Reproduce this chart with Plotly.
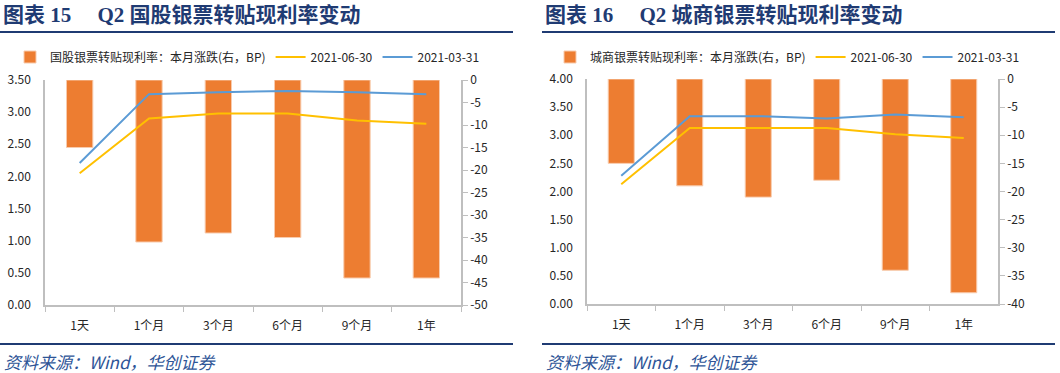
import plotly.graph_objects as go

# ---------------- data ----------------
categories = ["1天", "1个月", "3个月", "6个月", "9个月", "1年"]

# Panel 15: 国股银票转贴现利率
gg_change_bp = [-15, -36, -34, -35, -44, -44]
gg_2021_06_30 = [2.05, 2.90, 2.98, 2.98, 2.87, 2.82]
gg_2021_03_31 = [2.21, 3.28, 3.31, 3.33, 3.31, 3.28]

# Panel 16: 城商银票转贴现利率
cs_change_bp = [-15, -19, -21, -18, -34, -38]
cs_2021_06_30 = [2.13, 3.13, 3.13, 3.13, 3.02, 2.95]
cs_2021_03_31 = [2.28, 3.34, 3.34, 3.30, 3.37, 3.32]

left_ticks_15 = [0, 0.5, 1.0, 1.5, 2.0, 2.5, 3.0, 3.5]
right_ticks_15 = [0, -5, -10, -15, -20, -25, -30, -35, -40, -45, -50]
left_ticks_16 = [0, 0.5, 1.0, 1.5, 2.0, 2.5, 3.0, 3.5, 4.0]
right_ticks_16 = [0, -5, -10, -15, -20, -25, -30, -35, -40]

titles = ["图表 15　 Q2 国股银票转贴现利率变动", "图表 16　 Q2 城商银票转贴现利率变动"]
bar_names = ["国股银票转贴现利率：本月涨跌(右，BP)", "城商银票转贴现利率：本月涨跌(右，BP)"]
source_text = "资料来源：Wind，华创证券"

# ---------------- style ----------------
W, H = 1060, 373
ORANGE = "#ED7D31"
YELLOW = "#FFC000"
BLUE = "#5B9BD5"
AXIS = "#BFBFBF"
TXT = "#262626"
NAVY = "#1F3B73"
FONT = "Noto Sans CJK SC, Liberation Sans, sans-serif"
TITLE_FONT = "Liberation Serif, Noto Sans CJK SC, serif"


def py(px):
    return 1 - px / H


fig = go.Figure()

panels = [
    dict(chg=gg_change_bp, a=gg_2021_06_30, b=gg_2021_03_31, bar=bar_names[0],
         xa="x", ybar="y", yline="y2", legend="legend"),
    dict(chg=cs_change_bp, a=cs_2021_06_30, b=cs_2021_03_31, bar=bar_names[1],
         xa="x2", ybar="y3", yline="y4", legend="legend2"),
]

for p in panels:
    fig.add_trace(go.Bar(
        x=categories, y=p["chg"], name=p["bar"], xaxis=p["xa"], yaxis=p["ybar"],
        marker=dict(color=ORANGE, line=dict(color="#F8CBAD", width=1)),
        width=0.38, legend=p["legend"], showlegend=True,
    ))
    fig.add_trace(go.Scatter(
        x=categories, y=p["a"], name="2021-06-30", mode="lines",
        xaxis=p["xa"], yaxis=p["yline"], line=dict(color=YELLOW, width=2),
        legend=p["legend"],
    ))
    fig.add_trace(go.Scatter(
        x=categories, y=p["b"], name="2021-03-31", mode="lines",
        xaxis=p["xa"], yaxis=p["yline"], line=dict(color=BLUE, width=2),
        legend=p["legend"],
    ))

tickfont = dict(family=FONT, size=12, color=TXT)

xcommon = dict(type="category", showline=True, linecolor=AXIS, linewidth=1.5,
               ticks="outside", tickson="boundaries", ticklen=5, tickcolor=AXIS,
               tickfont=tickfont, showgrid=False, zeroline=False, automargin=False,
               ticklabelstandoff=9)

ycommon = dict(showline=True, linecolor=AXIS, linewidth=1.5, tickfont=tickfont,
               showgrid=False, zeroline=False, automargin=False)

legfont = dict(family=FONT, size=12, color=TXT)

fig.update_layout(
    width=W, height=H,
    margin=dict(l=0, r=0, t=0, b=0, autoexpand=False),
    paper_bgcolor="white", plot_bgcolor="white",
    font=dict(family=FONT, color=TXT),
    xaxis=dict(domain=[45 / W, 461 / W], anchor="y", **xcommon),
    yaxis=dict(domain=[py(305), py(80)], anchor="x", side="right",
               range=[-50, 0], tickvals=right_ticks_15,
               ticktext=[str(v) for v in right_ticks_15],
               ticks="outside", ticklen=5, tickcolor=AXIS, **ycommon),
    yaxis2=dict(overlaying="y", side="left", anchor="x", range=[0, 3.5],
                tickvals=left_ticks_15,
                ticktext=[f"{v:.2f}" for v in left_ticks_15],
                ticks="", ticklabelstandoff=10, **ycommon),
    xaxis2=dict(domain=[587 / W, 998 / W], anchor="y3", **xcommon),
    yaxis3=dict(domain=[py(304), py(79)], anchor="x2", side="right",
                range=[-40, 0], tickvals=right_ticks_16,
                ticktext=[str(v) for v in right_ticks_16],
                ticks="outside", ticklen=5, tickcolor=AXIS, **ycommon),
    yaxis4=dict(overlaying="y3", side="left", anchor="x2", range=[0, 4.0],
                tickvals=left_ticks_16,
                ticktext=[f"{v:.2f}" for v in left_ticks_16],
                ticks="", ticklabelstandoff=10, **ycommon),
    legend=dict(orientation="h", x=10 / W, y=py(57), xanchor="left", yanchor="middle",
                font=legfont, bgcolor="rgba(0,0,0,0)",
                itemwidth=30, tracegroupgap=0, traceorder="normal"),
    legend2=dict(orientation="h", x=550 / W, y=py(57), xanchor="left", yanchor="middle",
                 font=legfont, bgcolor="rgba(0,0,0,0)",
                 itemwidth=30, tracegroupgap=0, traceorder="normal"),
)

annotations = []
shapes = []
for i, (x0, x1) in enumerate([(0, 513), (542, 1055)]):
    annotations.append(dict(
        text="<b>" + titles[i] + "</b>", x=(x0 + 1) / W, y=py(15), xref="paper", yref="paper",
        xanchor="left", yanchor="middle", showarrow=False,
        font=dict(family=TITLE_FONT, size=21, color=NAVY),
    ))
    annotations.append(dict(
        text="<i>" + source_text + "</i>", x=(x0 + 2) / W, y=py(361), xref="paper", yref="paper",
        xanchor="left", yanchor="middle", showarrow=False,
        font=dict(family=FONT, size=17, color="#2E5597"),
    ))
    for yy in (32, 344):
        shapes.append(dict(type="line", xref="paper", yref="paper",
                           x0=x0 / W, x1=x1 / W, y0=py(yy), y1=py(yy),
                           line=dict(color=NAVY, width=2)))

fig.update_layout(annotations=annotations, shapes=shapes)

fig.write_html(
    "out.html",
    config={"displayModeBar": False},
    post_script="document.body.style.margin='0';document.body.style.padding='0';"
                "document.body.style.overflow='hidden';",
)
